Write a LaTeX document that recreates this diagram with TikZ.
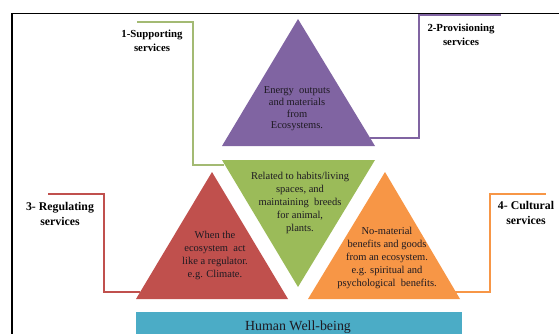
\documentclass[tikz,border=0pt]{standalone}
\usepackage{fontspec}
\setmainfont{Liberation Serif}
\definecolor{cpurple}{HTML}{8064A2}
\definecolor{cgreen}{HTML}{9BBB59}
\definecolor{cred}{HTML}{C0504D}
\definecolor{corange}{HTML}{F79646}
\definecolor{cblue}{HTML}{4BACC6}
\definecolor{ctext}{HTML}{1E1A22}
\tikzset{
  conn/.style={line width=1.3pt},
  lab/.style={font=\bfseries\fontsize{10.8}{13.5}\selectfont, align=center, inner sep=0pt},
  labbig/.style={font=\bfseries\fontsize{11.8}{15}\selectfont, align=center, inner sep=0pt},
  tri/.style={font=\fontsize{10.5}{13}\selectfont, align=center, inner sep=0pt, text=ctext},
}
\begin{document}
\begin{tikzpicture}[x=1pt,y=-1pt]
\useasboundingbox (0,0) rectangle (559,334);
% frame (clipped on right and bottom)
\draw[line width=1.2pt] (12,334) -- (12,13.5) -- (559,13.5);

% triangles
\fill[cpurple] (222,146) -- (375,146) -- (298,19) -- cycle;
\fill[cgreen] (222,160) -- (375,160) -- (298,287) -- cycle;
\fill[cred] (136,299) -- (288,299) -- (212,172) -- cycle;
\fill[corange] (308,299) -- (460,299) -- (385,172) -- cycle;

% bottom bar
\fill[cblue] (136,312) rectangle (462,334);
\node[font=\fontsize{13.9}{16}\selectfont, inner sep=0pt, text=ctext, anchor=base] (hwb) at (298,330) {Human Well-being};

% triangle texts
\node[tri, font=\fontsize{10.5}{11.6}\selectfont] (tp) at (297,109) {Energy\enspace outputs\\and materials\\from\\Ecosystems.};
\node[tri] (tg) at (300,203) {Related to habits/living\\spaces, and\\maintaining\enspace breeds\\for animal,\\plants.};
\node[tri] (tr) at (215,255) {When the\\ecosystem\enspace act\\like a regulator.\\e.g. Climate.};
\node[tri] (to) at (387,258) {No-material\\benefits and goods\\from an ecosystem.\\e.g. spiritual and\\psychological\enspace benefits.};

% labels
\node[lab] (l1) at (152,41) {1-Supporting\\services};
\node[lab] (l2) at (461,35) {2-Provisioning\\services};
\node[labbig] (l3) at (60,214) {3- Regulating\\services};
\node[labbig] (l4) at (526,213) {4- Cultural\\services};

% connector coordinates
\coordinate (s0) at (137,22);
\coordinate (s1) at (193,22);
\coordinate (s2) at (193,165);
\coordinate (s3) at (224,165);
\coordinate (p0) at (501,15);
\coordinate (p1) at (419,15);
\coordinate (p2) at (419,138);
\coordinate (p3) at (370,138);
\coordinate (r0) at (48,194);
\coordinate (r1) at (104,194);
\coordinate (r2) at (104,292);
\coordinate (r3) at (140,292);
\coordinate (o0) at (455,292);
\coordinate (o1) at (490,292);
\coordinate (o2) at (490,194);
\coordinate (o3) at (546,194);

\draw[conn, draw=cgreen!90!black!80!white] (s0) -- (s1) -- (s2) -- (s3);
\draw[conn, draw=cpurple] (p0) -- (p1) -- (p2) -- (p3);
\draw[conn, draw=cred] (r0) -- (r1) -- (r2) -- (r3);
\draw[conn, draw=corange] (o0) -- (o1) -- (o2) -- (o3);
\end{tikzpicture}
\end{document}
